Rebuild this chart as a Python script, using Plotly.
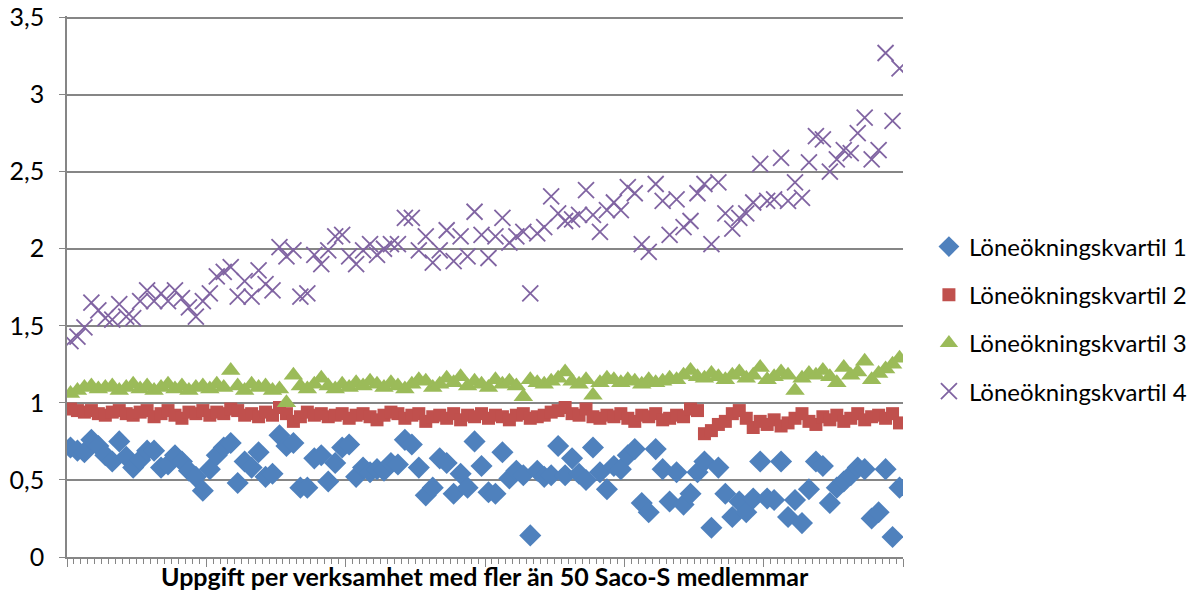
import plotly.graph_objects as go

q1 = [0.71, 0.69, 0.68, 0.76, 0.72, 0.66, 0.62, 0.75, 0.65, 0.58,
      0.63, 0.69, 0.69, 0.58, 0.60, 0.66, 0.62, 0.56, 0.52, 0.43,
      0.57, 0.66, 0.71, 0.74, 0.48, 0.62, 0.58, 0.68, 0.52, 0.54,
      0.79, 0.72, 0.74, 0.45, 0.45, 0.64, 0.66, 0.49, 0.61, 0.71,
      0.73, 0.52, 0.58, 0.55, 0.57, 0.56, 0.61, 0.60, 0.76, 0.73, 0.58,
      0.40, 0.45, 0.64, 0.61, 0.41, 0.54, 0.45, 0.75, 0.59, 0.42,
      0.41, 0.68, 0.51, 0.56, 0.53, 0.14, 0.56, 0.52, 0.53, 0.72,
      0.53, 0.64, 0.54, 0.50, 0.71, 0.55, 0.44, 0.59, 0.57, 0.66,
      0.70, 0.35, 0.29, 0.70, 0.57, 0.36, 0.55, 0.34, 0.41, 0.55,
      0.62, 0.19, 0.58, 0.41, 0.26, 0.36, 0.29, 0.38, 0.62, 0.38,
      0.37, 0.62, 0.26, 0.37, 0.22, 0.44, 0.62, 0.59, 0.35, 0.45,
      0.49, 0.53, 0.58, 0.57, 0.25, 0.29, 0.57, 0.13, 0.45]

q2 = [0.96, 0.95, 0.94, 0.95, 0.93, 0.92, 0.94, 0.95, 0.93, 0.92,
      0.94, 0.95, 0.91, 0.93, 0.95, 0.92, 0.90, 0.94, 0.93, 0.95,
      0.92, 0.94, 0.93, 0.96, 0.95, 0.92, 0.93, 0.91, 0.94, 0.92,
      0.97, 0.93, 0.88, 0.91, 0.94, 0.92, 0.93, 0.91, 0.92, 0.93,
      0.90, 0.92, 0.93, 0.91, 0.89, 0.92, 0.94, 0.93, 0.90, 0.92,
      0.93, 0.88, 0.91, 0.92, 0.90, 0.93, 0.89, 0.92, 0.91, 0.93,
      0.90, 0.92, 0.91, 0.89, 0.92, 0.93, 0.90, 0.91, 0.92, 0.94,
      0.95, 0.97, 0.93, 0.92, 0.96, 0.91, 0.90, 0.92, 0.91, 0.93,
      0.90, 0.88, 0.92, 0.91, 0.93, 0.89, 0.90, 0.92, 0.91, 0.96,
      0.95, 0.80, 0.82, 0.86, 0.88, 0.93, 0.95, 0.90, 0.84, 0.88,
      0.86, 0.89, 0.85, 0.87, 0.90, 0.93, 0.88, 0.86, 0.91, 0.89,
      0.92, 0.88, 0.90, 0.93, 0.89, 0.91, 0.92, 0.90, 0.93, 0.87]

q3 = [1.06, 1.08, 1.10, 1.11, 1.09, 1.10, 1.11, 1.08, 1.10, 1.12,
      1.09, 1.11, 1.08, 1.10, 1.12, 1.09, 1.11, 1.08, 1.10, 1.11,
      1.09, 1.12, 1.10, 1.21, 1.11, 1.08, 1.12, 1.10, 1.11, 1.08,
      1.09, 1.00, 1.18, 1.11, 1.09, 1.12, 1.16, 1.11, 1.09, 1.12,
      1.10, 1.13, 1.11, 1.14, 1.12, 1.10, 1.13, 1.11, 1.09, 1.12,
      1.15, 1.14, 1.10, 1.12, 1.16, 1.13, 1.17, 1.11, 1.14, 1.12,
      1.10, 1.15, 1.12, 1.14, 1.11, 1.04, 1.15, 1.13, 1.12, 1.14,
      1.16, 1.20, 1.14, 1.12, 1.15, 1.05, 1.13, 1.16, 1.15, 1.13,
      1.15, 1.14, 1.12, 1.15, 1.13, 1.14, 1.16, 1.15, 1.18, 1.21,
      1.17, 1.16, 1.19, 1.17, 1.15, 1.18, 1.20, 1.16, 1.18, 1.23,
      1.15, 1.17, 1.20, 1.18, 1.08, 1.16, 1.19, 1.18, 1.21, 1.17,
      1.13, 1.23, 1.18, 1.20, 1.27, 1.15, 1.19, 1.22, 1.25, 1.29]

q4 = [1.40, 1.43, 1.49, 1.65, 1.60, 1.55, 1.54, 1.64, 1.56, 1.55,
      1.66, 1.73, 1.66, 1.71, 1.66, 1.73, 1.68, 1.62, 1.56, 1.66,
      1.71, 1.82, 1.85, 1.88, 1.69, 1.79, 1.69, 1.86, 1.77, 1.73,
      2.01, 1.95, 1.99, 1.69, 1.71, 1.96, 1.90, 1.99, 2.08, 2.09,
      1.95, 1.90, 1.99, 2.03, 1.96, 2.00, 2.03, 2.03, 2.20, 2.20, 1.99,
      2.08, 1.91, 1.99, 2.12, 1.92, 2.08, 1.95, 2.24, 2.09, 1.94,
      2.08, 2.20, 2.04, 2.08, 2.11, 1.71, 2.10, 2.14, 2.34, 2.23,
      2.18, 2.19, 2.22, 2.38, 2.22, 2.11, 2.25, 2.30, 2.25, 2.40,
      2.36, 2.03, 1.98, 2.42, 2.31, 2.09, 2.32, 2.14, 2.18, 2.36,
      2.42, 2.03, 2.43, 2.23, 2.13, 2.20, 2.23, 2.30, 2.55, 2.31,
      2.32, 2.59, 2.31, 2.43, 2.33, 2.56, 2.73, 2.71, 2.50, 2.58,
      2.64, 2.62, 2.75, 2.85, 2.58, 2.64, 3.27, 2.83, 3.17]

n = max(len(q1), len(q2), len(q3), len(q4))
categories = list(range(1, n + 1))

series_names = ["Löneökningskvartil 1", "Löneökningskvartil 2",
                "Löneökningskvartil 3", "Löneökningskvartil 4"]
y_ticks = [0, 0.5, 1, 1.5, 2, 2.5, 3, 3.5]
y_tick_text = ["0", "0,5", "1", "1,5", "2", "2,5", "3", "3,5"]
x_title = "Uppgift per verksamhet med fler än 50 Saco-S medlemmar"

FONT = "Lato, 'Open Sans', sans-serif"
fig = go.Figure()

styles = [
    dict(symbol="diamond", size=17, color="#4F81BD", line=dict(width=0)),
    dict(symbol="square", size=13, color="#C0504D", line=dict(width=0)),
    dict(symbol="triangle-up", size=17, color="#9BBB59", line=dict(width=0)),
    dict(symbol="x-thin", size=16, color="#8064A2", line=dict(width=1.8, color="#8064A2")),
]
for i, (name, vals) in enumerate(zip(series_names, [q1, q2, q3, q4])):
    fig.add_trace(go.Scatter(
        x=categories[:len(vals)], y=vals, mode="markers", name=name,
        marker=styles[i], legendgroup=str(i),
    ))

fig.update_layout(
    width=1188, height=583,
    margin=dict(l=59, r=293, t=8, b=34, autoexpand=False),
    paper_bgcolor="white", plot_bgcolor="white",
    font=dict(family=FONT, size=24, color="#000000"),
    showlegend=True,
    legend=dict(x=1.031, y=0.44, xanchor="left", yanchor="middle",
                font=dict(size=24, family=FONT, color="#000000"),
                tracegroupgap=14, itemwidth=30, bgcolor="rgba(0,0,0,0)"),
    xaxis=dict(range=[0.5, n + 0.5], showgrid=False, zeroline=False,
               showline=True, linecolor="#868686", linewidth=1.5,
               tickmode="linear", tick0=0.5, dtick=20, ticks="outside",
               ticklen=8, tickcolor="#868686", tickwidth=1.2,
               showticklabels=False, automargin=False,
               minor=dict(tick0=0.5, dtick=1, ticks="outside", ticklen=5,
                          tickcolor="#868686", tickwidth=1)),
    yaxis=dict(range=[0, 3.51], tickvals=y_ticks, ticktext=y_tick_text,
               showgrid=True, gridcolor="#868686", gridwidth=1.5,
               zeroline=False, showline=True, linecolor="#868686",
               linewidth=1.5, ticks="outside", ticklen=6,
               tickcolor="#868686", ticklabelstandoff=10,
               ticklabeloverflow="allow", automargin=False,
               tickfont=dict(size=25, family=FONT, color="#000000")),
)
fig.add_annotation(text="<b>" + x_title + "</b>", xref="paper", yref="paper",
                   x=0.5, y=-0.035, xanchor="center", yanchor="middle",
                   showarrow=False, font=dict(size=25, family=FONT))

fig.write_html("out.html")
